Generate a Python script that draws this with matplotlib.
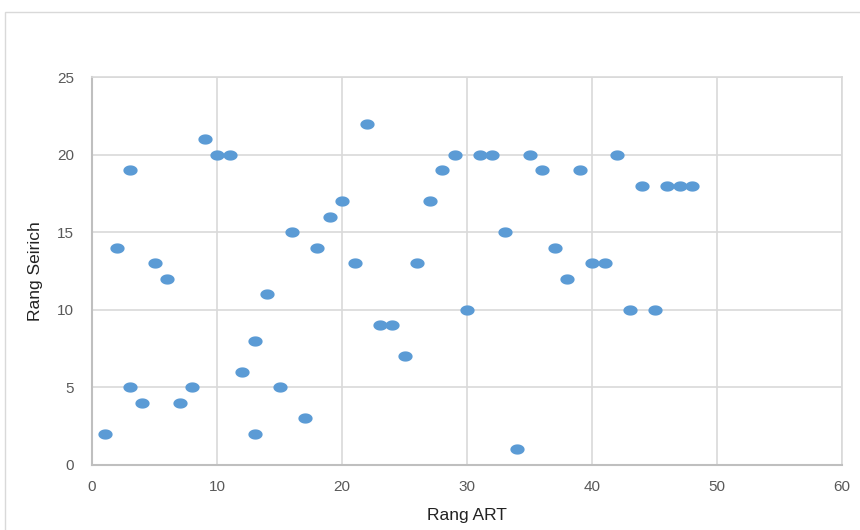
import matplotlib
matplotlib.use('Agg')
from matplotlib import pyplot as plt
from matplotlib.path import Path
from matplotlib.patches import Rectangle
import numpy as np

# Ranks
rang_art = [1, 2, 3, 3, 4, 5, 6, 7, 8, 9, 10, 11, 12, 13, 13, 14, 15, 16, 17,
            18, 19, 20, 21, 22, 23, 24, 25, 26, 27, 28, 29, 30, 31, 32, 33,
            34, 35, 36, 37, 38, 39, 40, 41, 42, 43, 44, 45, 46, 47, 48]
rang_seirich = [2, 14, 19, 5, 4, 13, 12, 4, 5, 21, 20, 20, 6, 8, 2, 11, 5, 15, 3,
                14, 16, 17, 13, 22, 9, 9, 7, 13, 17, 19, 20, 10, 20, 20, 15,
                1, 20, 19, 14, 12, 19, 13, 13, 20, 10, 18, 10, 18, 18, 18]
x_ticks = [0, 10, 20, 30, 40, 50, 60]
y_ticks = [0, 5, 10, 15, 20, 25]

plt.rcParams['font.family'] = ['Liberation Sans', 'DejaVu Sans']

fig = plt.figure(figsize=(8.6, 5.3), dpi=100)
fig.patches.append(Rectangle((5 / 860, -0.1), 1.1, 1 - 12 / 530 + 0.1,
                             transform=fig.transFigure, fill=False,
                             edgecolor='#d9d9d9', linewidth=1.0))

ax = fig.add_axes([92 / 860, 1 - 465 / 530, 750 / 860, 388 / 530])

# slightly flattened dot, like the stretched original
t = np.linspace(0, 2 * np.pi, 60)
ellipse = Path(np.column_stack([np.cos(t), 0.72 * np.sin(t)]), closed=True)
ax.scatter(rang_art, rang_seirich, marker=ellipse, s=105, color='#5b9bd5',
           linewidths=0, zorder=3)

ax.set_xlim(0, 60)
ax.set_ylim(0, 25)
ax.set_xticks(x_ticks)
ax.set_yticks(y_ticks)
ax.grid(True, color='#d9d9d9', linewidth=1.2)
ax.set_axisbelow(True)
for side in ['top', 'right']:
    ax.spines[side].set_color('#d9d9d9')
    ax.spines[side].set_linewidth(1.2)
for side in ['left', 'bottom']:
    ax.spines[side].set_color('#bfbfbf')
    ax.spines[side].set_linewidth(1.5)
ax.tick_params(axis='x', length=0, labelsize=11, labelcolor='#595959', pad=11)
ax.tick_params(axis='y', length=0, labelsize=11, labelcolor='#595959', pad=13)

ax.set_xlabel('Rang ART', fontsize=12.5, color='#222222', labelpad=10)
ax.set_ylabel('Rang Seirich', fontsize=12.5, color='#222222', labelpad=10)

fig.savefig('out.png', dpi=100)
